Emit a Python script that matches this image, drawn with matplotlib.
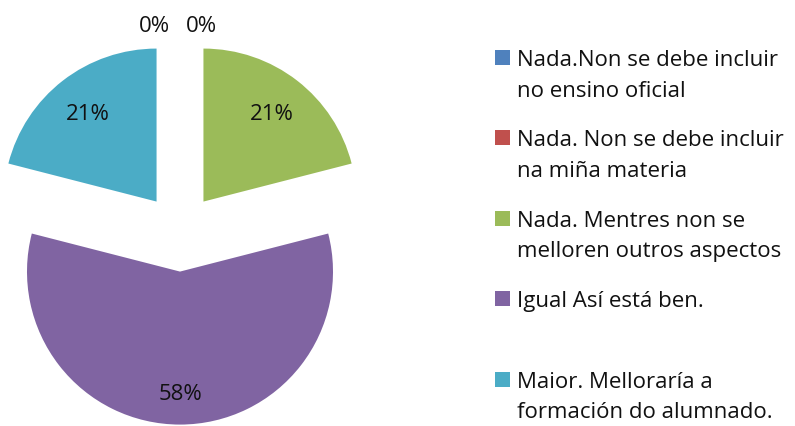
import numpy as np
import matplotlib.pyplot as plt
from matplotlib.patches import Rectangle

categories = [
    "Nada.Non se debe incluir\nno ensino oficial",
    "Nada. Non se debe incluir\nna miña materia",
    "Nada. Mentres non se\nmelloren outros aspectos",
    "Igual Así está ben.",
    "Maior. Melloraría a\nformación do alumnado.",
]
values = [0, 0, 21, 58, 21]
colors = ["#4F81BD", "#C0504D", "#9BBB59", "#8064A2", "#4BACC6"]

W, H = 795, 427
PX = 153.0             # pixels per pie radius
CX, CY = 180.0, 232.8  # pie centre in pixels (from top-left)
FS = 16

plt.rcParams['font.family'] = ['Open Sans', 'DejaVu Sans']

fig = plt.figure(figsize=(W / 100, H / 100), dpi=100)
ax = fig.add_axes([0, 0, 1, 1])

explode = [0.25, 0.25, 0.25, 0.26, 0.25]
wedges, _, autotexts = ax.pie(values, colors=colors, startangle=90, counterclock=False,
                              explode=explode, radius=1.0,
                              autopct='%1.0f%%', pctdistance=0.73,
                              wedgeprops=dict(linewidth=0),
                              textprops=dict(fontsize=FS, color='#111111'))

# zero slices sit on top of each other: spread their labels left / right above the pie
zero_idx = [i for i, v in enumerate(values) if v == 0]
for k, i in enumerate(zero_idx):
    autotexts[i].set_position((-0.17 + 0.31 * k, 1.35))

# largest slice label a bit further out
big = int(np.argmax(values))
w = wedges[big]
th = np.deg2rad((w.theta1 + w.theta2) / 2)
cx, cy = w.center
autotexts[big].set_position((cx + 0.8 * np.cos(th), cy + 0.8 * np.sin(th)))

ax.set_aspect('equal')
ax.set_xlim(-CX / PX, (W - CX) / PX)
ax.set_ylim((CY - H) / PX, CY / PX)
ax.axis('off')


def fx(x):
    return x / W


def fy(y):
    return 1 - y / H


# legend, drawn by hand so the swatch lines up with the first text line
base0, step, line = 66.0, 80.4, 30.7
sq = 15
for i, (lab, col) in enumerate(zip(categories, colors)):
    b = base0 + step * i
    fig.patches.append(Rectangle((fx(495), fy(b - 7.5 + sq / 2)), sq / W, sq / H,
                                 transform=fig.transFigure, facecolor=col,
                                 edgecolor='none'))
    for j, txt in enumerate(lab.split("\n")):
        fig.text(fx(517), fy(b + j * line), txt, fontsize=FS, color='#111111',
                 ha='left', va='baseline')

fig.savefig("out.png", dpi=100, facecolor='white')
